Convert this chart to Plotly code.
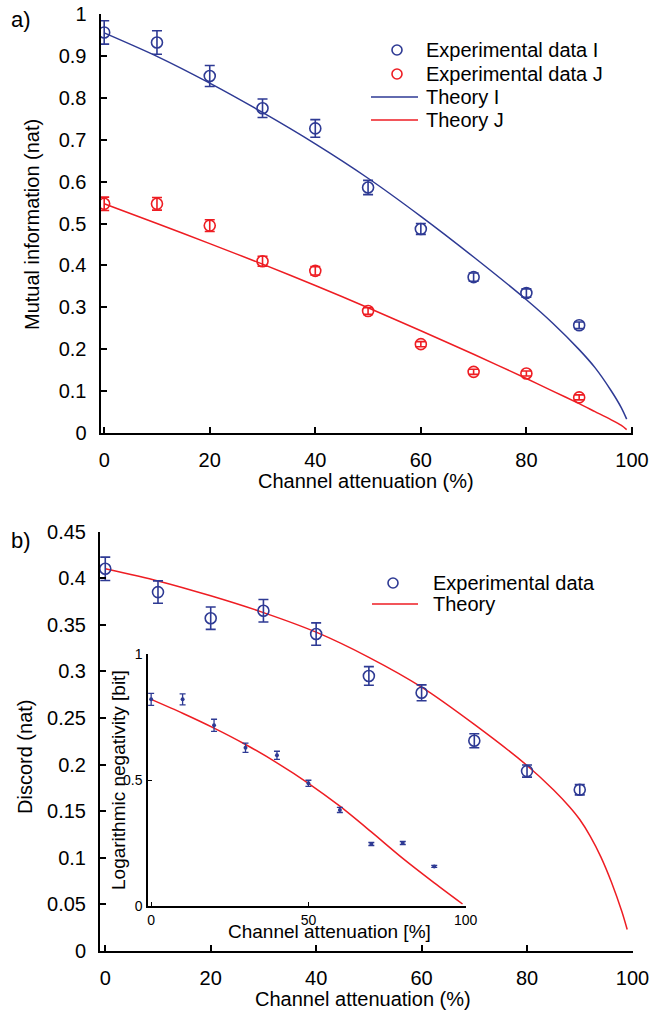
import plotly.graph_objects as go

# ---------------- data ----------------
atten = [0, 10, 20, 30, 40, 50, 60, 70, 80, 90]

mi_I = [0.956, 0.932, 0.852, 0.775, 0.727, 0.586, 0.487, 0.372, 0.334, 0.257]
mi_I_err = [0.028, 0.028, 0.025, 0.022, 0.021, 0.017, 0.013, 0.010, 0.010, 0.008]
mi_J = [0.547, 0.547, 0.495, 0.410, 0.387, 0.291, 0.212, 0.146, 0.142, 0.085]
mi_J_err = [0.016, 0.015, 0.014, 0.012, 0.010, 0.008, 0.006, 0.006, 0.006, 0.006]

theory_x = [0, 10, 20, 30, 40, 50, 60, 70, 80, 85, 90, 93, 96, 98, 99]
theory_I = [0.955, 0.899, 0.835, 0.765, 0.690, 0.608, 0.517, 0.420, 0.318, 0.262, 0.199, 0.156, 0.102, 0.060, 0.033]
theory_J = [0.547, 0.500, 0.452, 0.403, 0.352, 0.299, 0.244, 0.188, 0.130, 0.100, 0.070, 0.051, 0.032, 0.018, 0.008]

discord = [0.410, 0.385, 0.357, 0.365, 0.340, 0.295, 0.277, 0.2255, 0.193, 0.173]
discord_err = [0.0125, 0.012, 0.012, 0.012, 0.012, 0.010, 0.0085, 0.0075, 0.0065, 0.0055]
theory_D_x = [0, 10, 20, 30, 40, 50, 60, 70, 80, 85, 88, 90, 92, 94, 96, 98, 99]
theory_D = [0.410, 0.397, 0.381, 0.363, 0.342, 0.315, 0.283, 0.243, 0.199, 0.173, 0.155, 0.141,
            0.123, 0.101, 0.074, 0.042, 0.023]

logneg = [0.820, 0.820, 0.717, 0.628, 0.598, 0.487, 0.381, 0.246, 0.250, 0.157]
logneg_err = [0.024, 0.022, 0.024, 0.018, 0.016, 0.012, 0.010, 0.006, 0.006, 0.004]
inset_x = [0, 10, 20, 30, 40, 50, 60, 70, 80, 90, 99]
theory_LN = [0.820, 0.765, 0.706, 0.641, 0.568, 0.487, 0.396, 0.294, 0.189, 0.092, 0.008]

# ---------------- style ----------------
W, H = 652, 1015
BLUE = "#2E3A94"
RED = "#EE1D23"
FONT = "Liberation Sans, Arial, Helvetica, sans-serif"
SMOOTH = 0.8


def xp(px):
    return px / W


def yp(py):
    return 1 - py / H


fig = go.Figure()

# top panel
fig.add_trace(go.Scatter(x=theory_x, y=theory_I, mode="lines", xaxis="x", yaxis="y",
                         line=dict(color=BLUE, width=1.5, shape="spline", smoothing=SMOOTH), showlegend=False))
fig.add_trace(go.Scatter(x=theory_x, y=theory_J, mode="lines", xaxis="x", yaxis="y",
                         line=dict(color=RED, width=1.5, shape="spline", smoothing=SMOOTH), showlegend=False))
fig.add_trace(go.Scatter(x=atten, y=mi_I, mode="markers", xaxis="x", yaxis="y",
                         marker=dict(symbol="circle-open", size=11, color=BLUE, line=dict(width=1.6)),
                         error_y=dict(type="data", array=mi_I_err, color=BLUE, thickness=1.6, width=5),
                         showlegend=False))
fig.add_trace(go.Scatter(x=atten, y=mi_J, mode="markers", xaxis="x", yaxis="y",
                         marker=dict(symbol="circle-open", size=11, color=RED, line=dict(width=1.6)),
                         error_y=dict(type="data", array=mi_J_err, color=RED, thickness=1.6, width=5),
                         showlegend=False))

# bottom panel
fig.add_trace(go.Scatter(x=theory_D_x, y=theory_D, mode="lines", xaxis="x2", yaxis="y2",
                         line=dict(color=RED, width=1.5, shape="spline", smoothing=SMOOTH), showlegend=False))
fig.add_trace(go.Scatter(x=atten, y=discord, mode="markers", xaxis="x2", yaxis="y2",
                         marker=dict(symbol="circle-open", size=11, color=BLUE, line=dict(width=1.6)),
                         error_y=dict(type="data", array=discord_err, color=BLUE, thickness=1.6, width=5),
                         showlegend=False))

# inset
fig.add_trace(go.Scatter(x=inset_x, y=theory_LN, mode="lines", xaxis="x3", yaxis="y3",
                         line=dict(color=RED, width=1.5, shape="spline", smoothing=SMOOTH), showlegend=False))
fig.add_trace(go.Scatter(x=atten, y=logneg, mode="markers", xaxis="x3", yaxis="y3",
                         marker=dict(symbol="circle", size=4, color=BLUE),
                         error_y=dict(type="data", array=logneg_err, color=BLUE, thickness=1.3, width=3),
                         showlegend=False))

axis_common = dict(showline=True, linecolor="black", linewidth=2, ticks="inside", tickcolor="black",
                   tickwidth=1.5, ticklen=6, showgrid=False, zeroline=False, automargin=False,
                   tickfont=dict(family=FONT, size=20, color="black"))
inset_common = dict(showline=True, linecolor="black", linewidth=1.5, ticks="inside", tickcolor="black",
                    tickwidth=1.2, ticklen=4, showgrid=False, zeroline=False, automargin=False,
                    tickfont=dict(family=FONT, size=14, color="black"))

fig.update_layout(
    width=W, height=H, margin=dict(l=0, r=0, t=0, b=0, autoexpand=False),
    paper_bgcolor="white", plot_bgcolor="rgba(0,0,0,0)",
    showlegend=False,
    xaxis=dict(**axis_common, domain=[xp(100.5), xp(633)], range=[-0.7, 100.2],
               tickvals=[0, 20, 40, 60, 80, 100], anchor="y", ticklabelstandoff=8),
    yaxis=dict(**axis_common, domain=[yp(433), yp(14)], range=[0, 1], dtick=0.1,
               anchor="x", ticklabelstandoff=8),
    xaxis2=dict(**axis_common, domain=[xp(100), xp(633)], range=[-1, 100.1],
                tickvals=[0, 20, 40, 60, 80, 100], anchor="y2", ticklabelstandoff=8),
    yaxis2=dict(**axis_common, domain=[yp(951), yp(531.5)], range=[0, 0.45], dtick=0.05,
                anchor="x2", ticklabelstandoff=8),
    xaxis3=dict(**inset_common, domain=[xp(148), xp(466)], range=[-1, 100.1],
                tickvals=[0, 50, 100], anchor="y3", ticklabelstandoff=0),
    yaxis3=dict(**inset_common, domain=[yp(906), yp(654)], range=[0, 1],
                tickvals=[0, 0.5, 1], anchor="x3", ticklabelstandoff=1),
)

ann = []


def text(t, px, py, size=20, angle=0, xanchor="center"):
    ann.append(dict(text=t, x=xp(px), y=yp(py), xref="paper", yref="paper", showarrow=False,
                    xanchor=xanchor, yanchor="middle", textangle=angle,
                    font=dict(family=FONT, size=size, color="black")))


text("a)", 21, 19, size=22)
text("b)", 21, 540, size=22)
text("Mutual information (nat)", 32, 225, angle=-90)
text("Channel attenuation (%)", 366, 481)
text("Discord (nat)", 25, 757, angle=-90)
text("Channel attenuation (%)", 363, 999)
text("Logarithmic negativity [bit]", 118, 780, size=19, angle=-90)
text("Channel attenuation [%]", 329, 931, size=19)

# legends (top)
text("Experimental data I", 424, 50, xanchor="left")
text("Experimental data J", 424, 74, xanchor="left")
text("Theory I", 424, 97, xanchor="left")
text("Theory J", 424, 120, xanchor="left")
# legend (bottom)
text("Experimental data", 431, 583, xanchor="left")
text("Theory", 431, 604, xanchor="left")

shapes = []


def legend_circle(px, py, color):
    shapes.append(dict(type="circle", xref="paper", yref="paper", xsizemode="pixel", ysizemode="pixel",
                       xanchor=xp(px), yanchor=yp(py), x0=-5, x1=5, y0=-5, y1=5,
                       line=dict(color=color, width=1.6)))


def legend_line(px0, px1, py, color):
    shapes.append(dict(type="line", xref="paper", yref="paper", x0=xp(px0), x1=xp(px1),
                       y0=yp(py), y1=yp(py), line=dict(color=color, width=1.5)))


legend_circle(397, 50, BLUE)
legend_circle(397, 74, RED)
legend_line(371, 418, 97, BLUE)
legend_line(371, 418, 120, RED)
legend_circle(393, 583, BLUE)
legend_line(372, 418, 604, RED)

fig.update_layout(annotations=ann, shapes=shapes)

fig.write_html(
    "out.html",
    config={"responsive": False, "displayModeBar": False},
    post_script="document.body.style.margin='0';document.body.style.padding='0';"
                "document.body.style.overflow='hidden';",
)
